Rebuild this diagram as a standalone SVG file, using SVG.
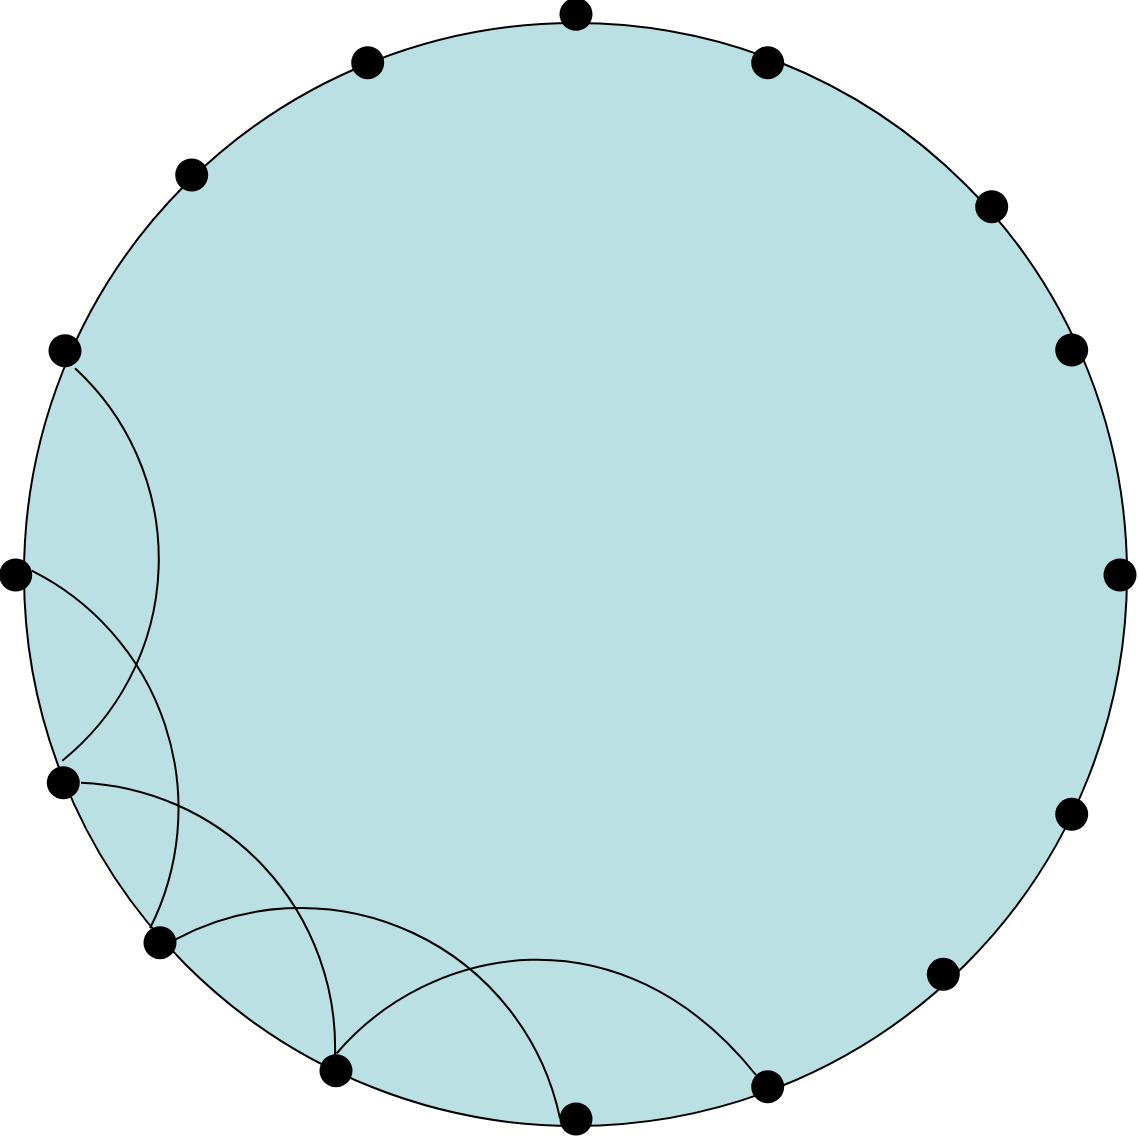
<svg xmlns="http://www.w3.org/2000/svg" width="1138" height="1136" viewBox="0 0 1138 1136">
<style>
.disk{fill:#bbe0e3;stroke:#000;stroke-width:2}
.node{fill:#000}
.edge{fill:none;stroke:#000;stroke-width:2}
</style>
<rect width="1138" height="1136" fill="#fff"/>
<circle class="disk" cx="575.5" cy="574.5" r="551.5"/>
<g id="connectors">
<path class="edge" d="M75,368.3 A259,259 0 0 1 62.3,760.7"/>
<path class="edge" d="M31.7,570.7 A266,266 0 0 1 150,928.3"/>
<path class="edge" d="M81,782.7 A265,265 0 0 1 335,1055"/>
<path class="edge" d="M175.7,939.3 A265,265 0 0 1 560,1118.3"/>
<path class="edge" d="M336.5,1053.5 C429,945 620,905 756,1075"/>
</g>
<g id="n1"><circle class="node" cx="576" cy="14.3" r="16.5"/></g>
<g id="n2"><circle class="node" cx="767.7" cy="62.7" r="16.5"/></g>
<g id="n3"><circle class="node" cx="991.7" cy="206.7" r="16.5"/></g>
<g id="n4"><circle class="node" cx="1071.7" cy="350" r="16.5"/></g>
<g id="n5"><circle class="node" cx="1120" cy="575" r="16.5"/></g>
<g id="n6"><circle class="node" cx="1071.7" cy="814.3" r="16.5"/></g>
<g id="n7"><circle class="node" cx="943.3" cy="974.3" r="16.5"/></g>
<g id="n8"><circle class="node" cx="767.7" cy="1086.7" r="16.5"/></g>
<g id="n9"><circle class="node" cx="576" cy="1119" r="16.5"/></g>
<g id="n10"><circle class="node" cx="336" cy="1070.7" r="16.5"/></g>
<g id="n11"><circle class="node" cx="160" cy="942.7" r="16.5"/></g>
<g id="n12"><circle class="node" cx="63.3" cy="782.7" r="16.5"/></g>
<g id="n13"><circle class="node" cx="15.7" cy="575" r="16.5"/></g>
<g id="n14"><circle class="node" cx="65" cy="350.7" r="16.5"/></g>
<g id="n15"><circle class="node" cx="191.7" cy="175" r="16.5"/></g>
<g id="n16"><circle class="node" cx="367.7" cy="62.7" r="16.5"/></g>
</svg>
